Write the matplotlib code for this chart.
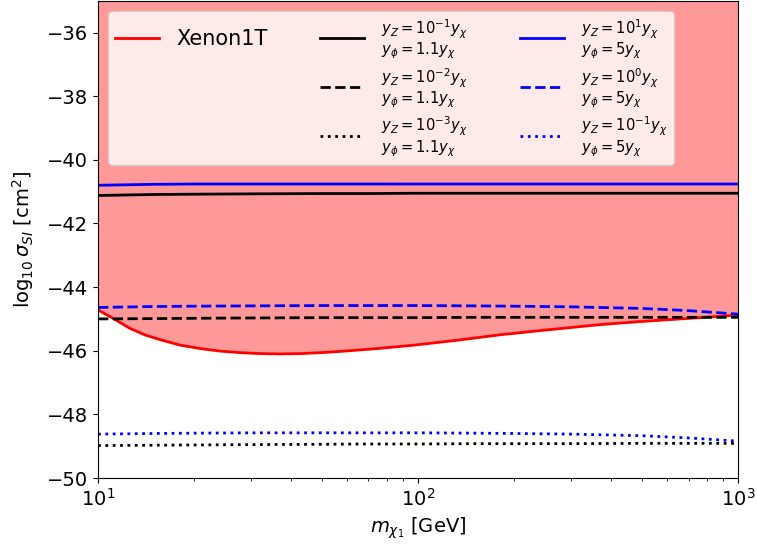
import numpy as np
import matplotlib
matplotlib.use("Agg")
import matplotlib.pyplot as plt
from matplotlib.lines import Line2D

# Xenon1T limit
xe_m = [10, 11, 12.6, 14, 15.6, 18, 20.8, 24, 27.8, 32, 37, 43, 52, 61, 75, 98, 130, 180, 250, 370, 500, 760, 1000]
xe_s = [-44.72, -44.95, -45.3, -45.5, -45.65, -45.82, -45.93, -46.01, -46.06, -46.09, -46.1, -46.09, -46.05, -46.0, -45.93, -45.82, -45.68, -45.5, -45.35, -45.18, -45.08, -44.96, -44.88]

m_grid = [10, 15, 20, 30, 50, 70, 100, 150, 200, 300, 500, 700, 1000]
k_solid = [-41.12, -41.09, -41.08, -41.07, -41.06, -41.06, -41.05, -41.05, -41.05, -41.05, -41.05, -41.05, -41.05]
k_dash = [-45.0, -44.99, -44.98, -44.97, -44.96, -44.96, -44.96, -44.95, -44.95, -44.95, -44.95, -44.95, -44.95]
k_dot = [-48.98, -48.97, -48.96, -48.95, -48.94, -48.93, -48.93, -48.92, -48.92, -48.92, -48.91, -48.91, -48.91]
b_solid = [-40.8, -40.77, -40.76, -40.76, -40.76, -40.76, -40.76, -40.76, -40.76, -40.76, -40.76, -40.76, -40.76]
b_dash = [-44.64, -44.61, -44.6, -44.59, -44.58, -44.58, -44.58, -44.59, -44.6, -44.62, -44.67, -44.74, -44.85]
b_dot = [-48.62, -48.6, -48.59, -48.58, -48.58, -48.58, -48.58, -48.59, -48.6, -48.62, -48.67, -48.74, -48.84]

labels_k = ["$y_Z=10^{-1}y_\\chi$\n$y_\\phi=1.1y_\\chi$",
            "$y_Z=10^{-2}y_\\chi$\n$y_\\phi=1.1y_\\chi$",
            "$y_Z=10^{-3}y_\\chi$\n$y_\\phi=1.1y_\\chi$"]
labels_b = ["$y_Z=10^{1}y_\\chi$\n$y_\\phi=5y_\\chi$",
            "$y_Z=10^{0}y_\\chi$\n$y_\\phi=5y_\\chi$",
            "$y_Z=10^{-1}y_\\chi$\n$y_\\phi=5y_\\chi$"]

fig = plt.figure(figsize=(7.57, 5.48), dpi=100)
ax = fig.add_axes([0.1295, 0.1277, 0.8455, 0.871])

ax.fill_between(xe_m, xe_s, -35, color="red", alpha=0.4, lw=0)
h_xe, = ax.plot(xe_m, xe_s, color="red", lw=2, label="Xenon1T")
hk1, = ax.plot(m_grid, k_solid, color="black", lw=2, ls="-", label=labels_k[0])
hk2, = ax.plot(m_grid, k_dash, color="black", lw=2, ls="--", label=labels_k[1])
hk3, = ax.plot(m_grid, k_dot, color="black", lw=2, ls=":", label=labels_k[2])
hb1, = ax.plot(m_grid, b_solid, color="blue", lw=2, ls="-", label=labels_b[0])
hb2, = ax.plot(m_grid, b_dash, color="blue", lw=2, ls="--", label=labels_b[1])
hb3, = ax.plot(m_grid, b_dot, color="blue", lw=2, ls=":", label=labels_b[2])

ax.set_xscale("log")
ax.set_xlim(10, 1000)
ax.set_ylim(-50, -35)
ax.set_yticks([-50, -48, -46, -44, -42, -40, -38, -36])
ax.tick_params(labelsize=14)
ax.set_xlabel("$m_{\\chi_1}$ [GeV]", fontsize=14)
ax.set_ylabel("$\\log_{10}\\sigma_{SI}$ [cm$^2$]", fontsize=14, labelpad=8)

blank = Line2D([], [], color="none")
handles = [h_xe, blank, blank, hk1, hk2, hk3, hb1, hb2, hb3]
labs = ["Xenon1T", "", "", labels_k[0], labels_k[1], labels_k[2], labels_b[0], labels_b[1], labels_b[2]]
leg = ax.legend(handles, labs, ncol=3, loc="upper left", fontsize=15,
                handlelength=2.15, columnspacing=2.5, labelspacing=0.24,
                borderpad=0.3, borderaxespad=0.5)
for t in leg.get_texts()[1:]:
    t.set_fontsize(10.6)
    t.set_linespacing(1.0)

fig.savefig("out.png", dpi=100)
